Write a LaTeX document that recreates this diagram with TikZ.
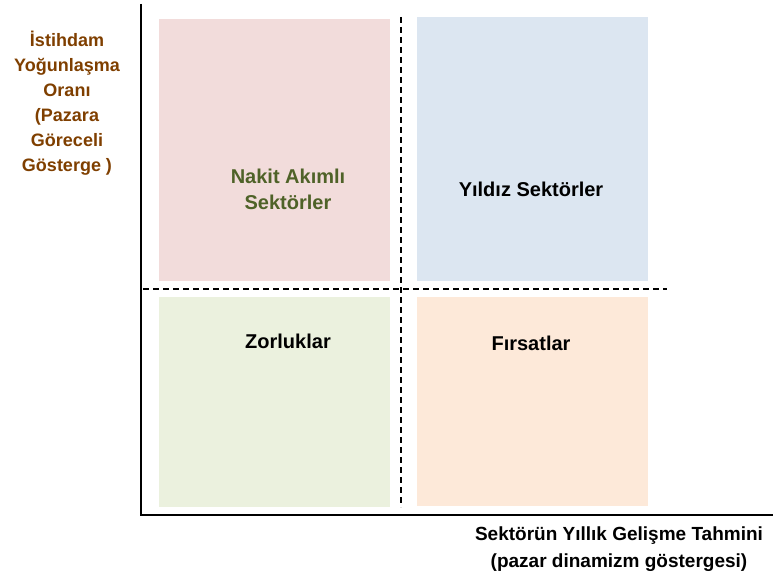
\documentclass[tikz,border=0pt]{standalone}
\usepackage{fontspec}
\setmainfont{Liberation Sans}
\usepackage{tikz}

\definecolor{pinkq}{HTML}{F2DCDB}
\definecolor{blueq}{HTML}{DCE6F1}
\definecolor{greenq}{HTML}{EBF1DE}
\definecolor{orangeq}{HTML}{FDE9D9}
\definecolor{nakitgreen}{HTML}{4F6228}
\definecolor{axisbrown}{HTML}{7F3F00}

\begin{document}
\begin{tikzpicture}[x=1pt,y=-1pt,font=\bfseries\fontsize{20}{26}\selectfont]
  \tikzstyle{quad}=[rectangle,inner sep=0pt,outer sep=0pt,minimum width=231pt]
  \tikzstyle{divider}=[line width=1.4pt,dash pattern=on 6pt off 4pt]
  \tikzstyle{axis}=[line width=2.6pt]
  \useasboundingbox (0,0) rectangle (773,580);

  % quadrants
  \node [quad,fill=pinkq,minimum height=262pt] (cash) at (274.5,150) {};
  \node [quad,fill=blueq,minimum height=264pt] (star) at (532.5,149) {};
  \node [quad,fill=greenq,minimum height=210pt] (hard) at (274.5,402) {};
  \node [quad,fill=orangeq,minimum height=209pt] (chance) at (532.5,401.5) {};

  % dividers
  \coordinate (vtop) at (401,17);
  \coordinate (vbot) at (401,507);
  \coordinate (hleft) at (143,289);
  \coordinate (hright) at (667,289);
  \draw [divider] (vtop) -- (vbot);
  \draw [divider] (hleft) -- (hright);

  % axes
  \coordinate (ytop) at (141,4);
  \coordinate (origin) at (141,515);
  \coordinate (xend) at (773,515);
  \draw [axis] (ytop) -- (origin) -- (xend);

  % labels
  \node [text=nakitgreen,align=center] (cashtxt) at (288,189) {Nakit Akımlı\\Sektörler};
  \node (startxt) at (531,189) {Yıldız Sektörler};
  \node (hardtxt) at (288,341) {Zorluklar};
  \node (chancetxt) at (531,343) {Fırsatlar};
  \node [text=axisbrown,align=center,font=\bfseries\fontsize{18}{25}\selectfont] (ylab) at (67,103) {İstihdam\\Yoğunlaşma\\Oranı\\(Pazara\\Göreceli\\Gösterge )};
  \node [align=center,font=\bfseries\fontsize{19}{27}\selectfont] (xlab) at (619,549) {Sektörün Yıllık Gelişme  Tahmini\\(pazar  dinamizm göstergesi)};
\end{tikzpicture}
\end{document}
